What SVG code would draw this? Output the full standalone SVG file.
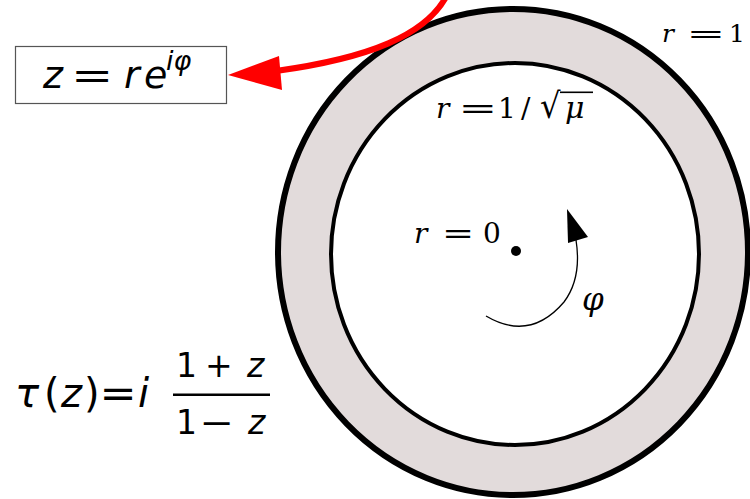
<svg xmlns="http://www.w3.org/2000/svg" width="750" height="499" viewBox="0 0 750 499">
<defs>
<style>
.sans{font-family:"DejaVu Sans","Liberation Sans",sans-serif;fill:#000}
.serif{font-family:"DejaVu Serif","Liberation Serif",serif;fill:#000}
.it{font-style:italic}
</style>
</defs>
<rect width="750" height="499" fill="#fff"/>
<g id="annulus">
<ellipse cx="513" cy="252" rx="235" ry="243" fill="#e2dbdb" stroke="#000" stroke-width="6"/>
<ellipse cx="515" cy="254" rx="184" ry="191" fill="#fff" stroke="#000" stroke-width="4"/>
</g>
<g id="origin">
<circle cx="516" cy="251" r="5" fill="#000"/>
</g>
<g id="labels">
<g id="label-r1" class="serif" font-size="25">
<text class="it" x="662" y="42">r</text>
<text transform="translate(686.5,42) scale(1.85,1)">=</text>
<text x="729" y="42">1</text>
</g>
<g id="label-rmu" class="serif" font-size="28">
<text class="it" x="436" y="118">r</text>
<text transform="translate(458.5,118) scale(1.65,1)">=</text>
<text x="498" y="118">1</text>
<text x="521" y="118">/</text>
<text transform="translate(540,118) scale(1.15,1.25)">√</text>
<text class="it" x="565" y="118" font-size="30">μ</text>
<rect x="560" y="91.5" width="33" height="1.6" fill="#000"/>
</g>
<g id="label-r0" class="serif" font-size="28">
<text class="it" x="414" y="243">r</text>
<text transform="translate(442,243) scale(1.37,1)">=</text>
<text x="483" y="243">0</text>
</g>
<text class="serif it" x="582" y="310" font-size="31">φ</text>
</g>
<g id="box">
<rect x="15.5" y="46.5" width="211" height="57" fill="#fff" stroke="#555" stroke-width="1.2"/>
<g class="sans" font-size="38">
<text class="it" x="43" y="88">z</text>
<text transform="translate(71,88) scale(1.33,1)">=</text>
<text class="it" x="124" y="88">r</text>
<text class="it" x="144" y="88">e</text>
<text class="it" x="166" y="70" font-size="27">iφ</text>
</g>
</g>
<g id="formula" class="sans">
<g font-size="40">
<text class="it" x="15" y="407">τ</text>
<text x="44" y="407">(</text>
<text class="it" x="61" y="407">z</text>
<text x="84" y="407">)</text>
<text transform="translate(99.5,407) scale(1.11,1)">=</text>
<text class="it" x="138" y="407">i</text>
</g>
<g font-size="33">
<text x="176" y="377">1</text>
<text x="205" y="377">+</text>
<text class="it" x="247" y="377">z</text>
<rect x="173" y="393.5" width="97" height="2.5" fill="#000"/>
<text x="176" y="434">1</text>
<text transform="translate(199.5,434) scale(1.25,1)">−</text>
<text class="it" x="248" y="434">z</text>
</g>
</g>
<g id="connectors">
<path d="M446 -3 C425 35 370 58 276 71" fill="none" stroke="#f00" stroke-width="6"/>
<polygon points="228,75 279,56 282,90" fill="#f00"/>
<path d="M486 316 Q530 342 564 302 Q582 278 576 240" fill="none" stroke="#000" stroke-width="1.3"/>
<polygon points="567,209 588,237 568,243" fill="#000"/>
</g>
</svg>
